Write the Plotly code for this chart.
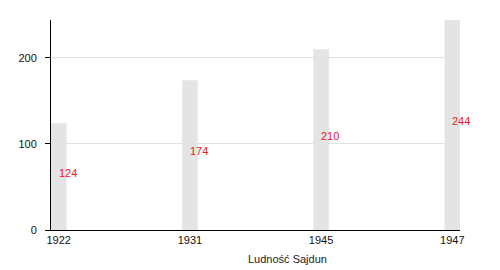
import plotly.graph_objects as go

years = ["1922", "1931", "1945", "1947"]
population = [124, 174, 210, 244]
title_text = "Ludność Sajdun"

bar_width = 0.118

fig = go.Figure()
fig.add_trace(go.Bar(
    x=years, y=population, width=bar_width,
    marker=dict(color="#e4e4e4", line=dict(width=0)),
    hoverinfo="skip",
))

for i, v in enumerate(population):
    fig.add_annotation(
        x=i, y=v / 2, text=str(v), showarrow=False,
        xanchor="left", yanchor="middle", yshift=4, xshift=-2,
        font=dict(color="#e8191f", size=11, family="Liberation Sans, Arial, sans-serif"),
    )

fig.add_annotation(
    xref="paper", yref="paper", x=0.5775, y=-0.138,
    text=title_text, showarrow=False, xanchor="center", yanchor="middle",
    font=dict(color="#222", size=11, family="Liberation Sans, Arial, sans-serif"),
)

fig.update_layout(
    width=500, height=270,
    margin=dict(l=50.5, r=40, t=20, b=40),
    paper_bgcolor="white", plot_bgcolor="white",
    showlegend=False,
    font=dict(family="Liberation Sans, Arial, sans-serif", size=11, color="#111"),
    xaxis=dict(
        type="category", range=[-bar_width / 2, 3 + bar_width / 2],
        showline=True, linecolor="black", linewidth=1,
        showgrid=False, ticks="", zeroline=False,
        tickfont=dict(size=11),
    ),
    yaxis=dict(
        range=[0, 244], tickvals=[0, 100, 200],
        showline=True, linecolor="black", linewidth=1,
        showgrid=True, gridcolor="#e2e2e2", gridwidth=1,
        ticks="outside", ticklen=5, tickcolor="black",
        zeroline=False, ticklabelstandoff=6,
        tickfont=dict(size=11),
    ),
)

fig.write_html("out.html")
